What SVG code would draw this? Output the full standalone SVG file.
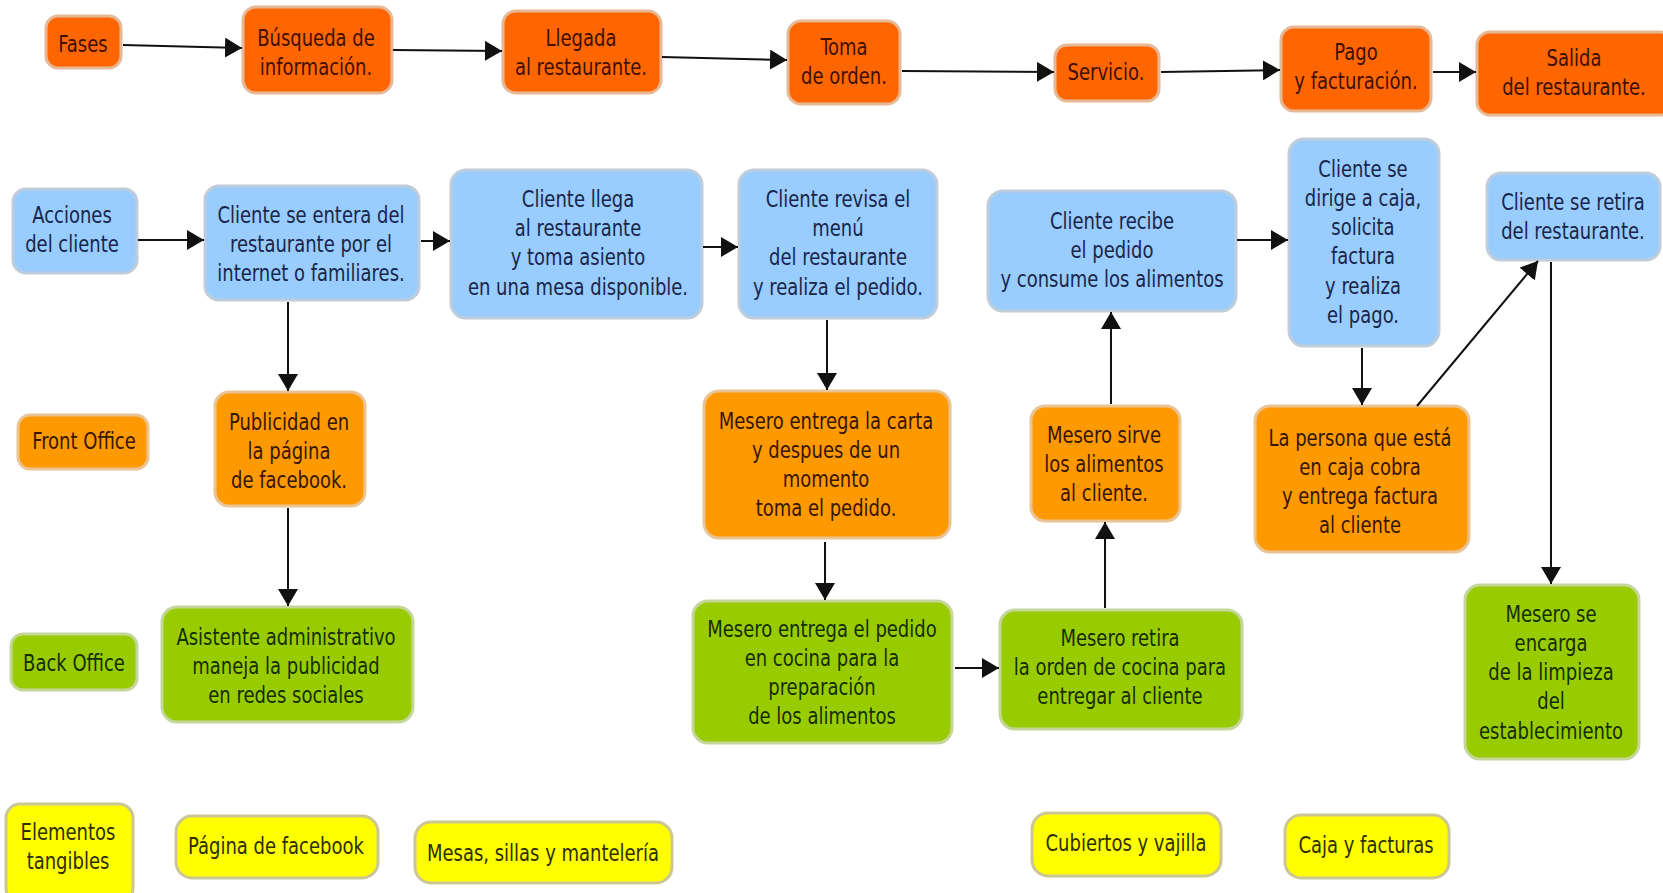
<svg xmlns="http://www.w3.org/2000/svg" width="1663" height="893" viewBox="0 0 1663 893">
  <defs>
    <marker id="arrow" markerUnits="userSpaceOnUse" markerWidth="18" markerHeight="20" refX="17" refY="10" orient="auto">
      <path d="M0,0 L17,10 L0,20 z" fill="#111"/>
    </marker>
  </defs>
  <style>
    text { font-family: "DejaVu Sans Condensed", "DejaVu Sans", sans-serif; font-size: 20px; text-anchor: middle;
           transform-box: fill-box; transform-origin: center; transform: scaleY(1.12); }
    .box { stroke-width: 3; }
    .phase rect { fill: #FF6600; stroke: #E6B896; }
    .phase text { fill: #3E1000; }
    .client rect { fill: #99CCFF; stroke: #BFCCDA; }
    .client text { fill: #18264A; }
    .front rect { fill: #FF9900; stroke: #E8C496; }
    .front text { fill: #361600; }
    .back rect { fill: #99CC00; stroke: #C4D69A; }
    .back text { fill: #152E00; }
    .tangible rect { fill: #FFFF00; stroke: #CCC594; }
    .tangible text { fill: #2E2E00; }
    .conn line { stroke: #111; stroke-width: 2; marker-end: url(#arrow); }
  </style>
  <rect width="1663" height="893" fill="#FFFFFF"/>

  <!-- Row 1: phases -->
  <g id="fases" class="phase"><rect class="box" x="46" y="16" width="75" height="52" rx="12"/><text x="83" y="51.5">Fases</text></g>
  <g id="busqueda" class="phase"><rect class="box" x="243" y="7" width="149" height="86" rx="13"/><text x="316" y="46.5">Búsqueda de<tspan x="316" y="72.5">información.</tspan></text></g>
  <g id="llegada" class="phase"><rect class="box" x="503" y="11" width="158" height="82" rx="13"/><text x="581" y="47">Llegada<tspan x="581" y="73">al restaurante.</tspan></text></g>
  <g id="toma" class="phase"><rect class="box" x="788" y="21" width="112" height="83" rx="13"/><text x="844" y="56">Toma<tspan x="844" y="82">de orden.</tspan></text></g>
  <g id="servicio" class="phase"><rect class="box" x="1055" y="45" width="104" height="56" rx="12"/><text x="1106" y="79">Servicio.</text></g>
  <g id="pago" class="phase"><rect class="box" x="1281" y="27" width="150" height="84" rx="13"/><text x="1356" y="61">Pago<tspan x="1356" y="87">y facturación.</tspan></text></g>
  <g id="salida" class="phase"><rect class="box" x="1477" y="32" width="196" height="83" rx="13"/><text x="1574" y="67">Salida<tspan x="1574" y="93">del restaurante.</tspan></text></g>

  <!-- Row 2: client actions -->
  <g id="acciones" class="client"><rect class="box" x="13" y="189" width="124" height="84" rx="13"/><text x="72" y="224">Acciones<tspan x="72" y="250">del cliente</tspan></text></g>
  <g id="entera" class="client"><rect class="box" x="205" y="186" width="214" height="114" rx="14"/><text x="311" y="225">Cliente se entera del<tspan x="311" y="251">restaurante por el</tspan><tspan x="311" y="277">internet o familiares.</tspan></text></g>
  <g id="llega" class="client"><rect class="box" x="451" y="170" width="251" height="148" rx="15"/><text x="578" y="211">Cliente llega<tspan x="578" y="237">al restaurante</tspan><tspan x="578" y="263">y toma asiento</tspan><tspan x="578" y="289">en una mesa disponible.</tspan></text></g>
  <g id="revisa" class="client"><rect class="box" x="739" y="170" width="198" height="148" rx="15"/><text x="838" y="211">Cliente revisa el<tspan x="838" y="237">menú</tspan><tspan x="838" y="263">del restaurante</tspan><tspan x="838" y="289">y realiza el pedido.</tspan></text></g>
  <g id="recibe" class="client"><rect class="box" x="988" y="191" width="248" height="120" rx="15"/><text x="1112" y="231">Cliente recibe<tspan x="1112" y="257">el pedido</tspan><tspan x="1112" y="283">y consume los alimentos</tspan></text></g>
  <g id="dirige" class="client"><rect class="box" x="1289" y="139" width="150" height="207" rx="15"/><text x="1363" y="184">Cliente se<tspan x="1363" y="210">dirige a caja,</tspan><tspan x="1363" y="236">solicita</tspan><tspan x="1363" y="262">factura</tspan><tspan x="1363" y="288">y realiza</tspan><tspan x="1363" y="314">el pago.</tspan></text></g>
  <g id="retira-cliente" class="client"><rect class="box" x="1487" y="173" width="173" height="87" rx="14"/><text x="1573" y="211">Cliente se retira<tspan x="1573" y="237">del restaurante.</tspan></text></g>

  <!-- Row 3: front office -->
  <g id="front-office" class="front"><rect class="box" x="18" y="415" width="130" height="54" rx="12"/><text x="84" y="448">Front Office</text></g>
  <g id="publicidad" class="front"><rect class="box" x="215" y="392" width="150" height="114" rx="14"/><text x="289" y="432">Publicidad en<tspan x="289" y="458">la página</tspan><tspan x="289" y="484">de facebook.</tspan></text></g>
  <g id="carta" class="front"><rect class="box" x="704" y="391" width="246" height="147" rx="15"/><text x="826" y="432.5">Mesero entrega la carta<tspan x="826" y="458.5">y despues de un</tspan><tspan x="826" y="484.5">momento</tspan><tspan x="826" y="510.5">toma el pedido.</tspan></text></g>
  <g id="sirve" class="front"><rect class="box" x="1031" y="406" width="149" height="115" rx="14"/><text x="1104" y="445.5">Mesero sirve<tspan x="1104" y="471.5">los alimentos</tspan><tspan x="1104" y="497.5">al cliente.</tspan></text></g>
  <g id="cobra" class="front"><rect class="box" x="1255" y="406" width="214" height="146" rx="15"/><text x="1360" y="449.5">La persona que está<tspan x="1360" y="475.5">en caja cobra</tspan><tspan x="1360" y="501.5">y entrega factura</tspan><tspan x="1360" y="527.5">al cliente</tspan></text></g>

  <!-- Row 4: back office -->
  <g id="back-office" class="back"><rect class="box" x="11" y="634" width="126" height="56" rx="12"/><text x="74" y="670">Back Office</text></g>
  <g id="asistente" class="back"><rect class="box" x="162" y="607" width="251" height="115" rx="15"/><text x="286" y="647">Asistente administrativo<tspan x="286" y="673">maneja la publicidad</tspan><tspan x="286" y="699">en redes sociales</tspan></text></g>
  <g id="cocina" class="back"><rect class="box" x="693" y="601" width="259" height="142" rx="15"/><text x="822" y="640.5">Mesero entrega el pedido<tspan x="822" y="666.5">en cocina para la</tspan><tspan x="822" y="692.5">preparación</tspan><tspan x="822" y="718.5">de los alimentos</tspan></text></g>
  <g id="retira-orden" class="back"><rect class="box" x="1000" y="610" width="242" height="119" rx="15"/><text x="1120" y="648">Mesero retira<tspan x="1120" y="674">la orden de cocina para</tspan><tspan x="1120" y="700">entregar al cliente</tspan></text></g>
  <g id="limpieza" class="back"><rect class="box" x="1465" y="585" width="174" height="174" rx="15"/><text x="1551" y="627.5">Mesero se<tspan x="1551" y="653.5">encarga</tspan><tspan x="1551" y="679.5">de la limpieza</tspan><tspan x="1551" y="705.5">del</tspan><tspan x="1551" y="731.5">establecimiento</tspan></text></g>

  <!-- Row 5: tangible elements -->
  <g id="elementos" class="tangible"><rect class="box" x="6" y="804" width="127" height="98" rx="14"/><text x="68" y="841">Elementos<tspan x="68" y="867">tangibles</tspan></text></g>
  <g id="pagina" class="tangible"><rect class="box" x="176" y="816" width="202" height="62" rx="16"/><text x="276" y="853">Página de facebook</text></g>
  <g id="mesas" class="tangible"><rect class="box" x="415" y="822" width="257" height="61" rx="16"/><text x="543" y="860">Mesas, sillas y mantelería</text></g>
  <g id="cubiertos" class="tangible"><rect class="box" x="1032" y="813" width="189" height="63" rx="16"/><text x="1126" y="850">Cubiertos y vajilla</text></g>
  <g id="caja" class="tangible"><rect class="box" x="1285" y="815" width="164" height="63" rx="16"/><text x="1366" y="852">Caja y facturas</text></g>

  <!-- Connectors -->
  <g id="connectors" class="conn">
    <line x1="123" y1="45" x2="242" y2="48"/>
    <line x1="393" y1="50" x2="502" y2="51"/>
    <line x1="662" y1="57" x2="787" y2="60"/>
    <line x1="902" y1="71" x2="1054" y2="72"/>
    <line x1="1161" y1="72" x2="1280" y2="70"/>
    <line x1="1433" y1="72" x2="1476" y2="72"/>

    <line x1="138" y1="240" x2="204" y2="240"/>
    <line x1="421" y1="241" x2="450" y2="241"/>
    <line x1="703" y1="247" x2="738" y2="247"/>
    <line x1="1237" y1="240" x2="1288" y2="240"/>

    <line x1="288" y1="302" x2="288" y2="391"/>
    <line x1="288" y1="508" x2="288" y2="606"/>
    <line x1="827" y1="320" x2="827" y2="390"/>
    <line x1="825" y1="542" x2="825" y2="600"/>
    <line x1="955" y1="668" x2="999" y2="668"/>
    <line x1="1105" y1="608" x2="1105" y2="522"/>
    <line x1="1111" y1="404" x2="1111" y2="312"/>
    <line x1="1362" y1="348" x2="1362" y2="405"/>
    <line x1="1417" y1="406" x2="1538" y2="261"/>
    <line x1="1551" y1="262" x2="1551" y2="584"/>
  </g>
</svg>
